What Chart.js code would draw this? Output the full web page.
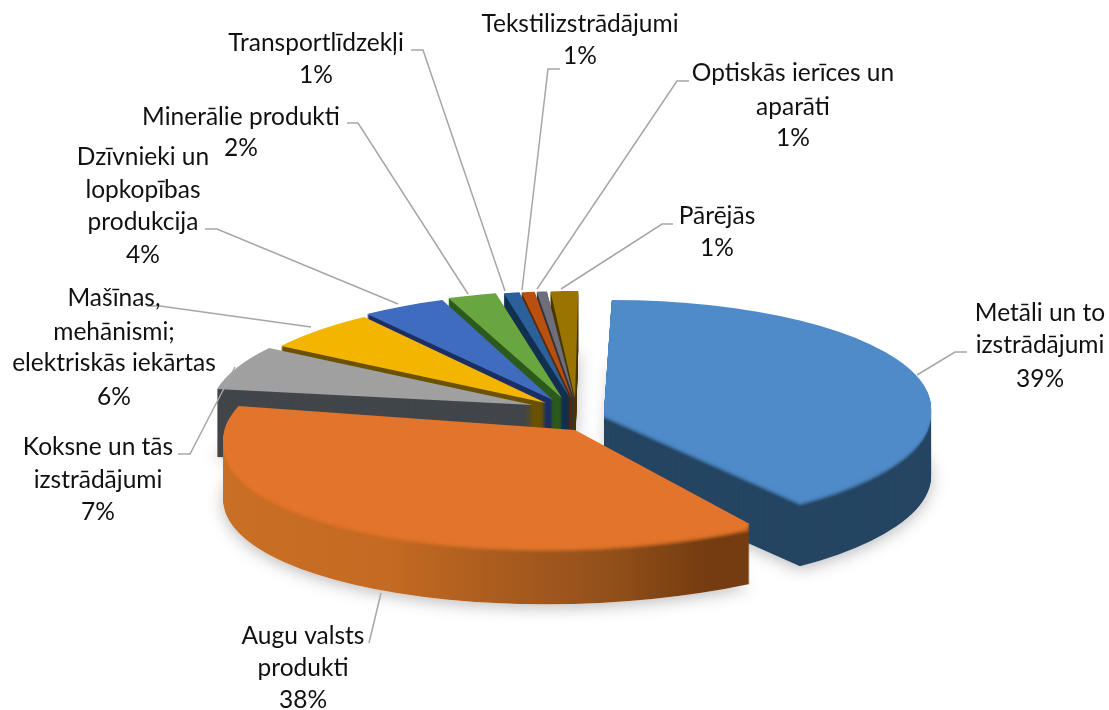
<!DOCTYPE html>
<html>
<head>
<meta charset="utf-8">
<title>Eksporta struktūra</title>
<script src="https://cdn.jsdelivr.net/npm/chart.js@4"></script>
<style>
    html, body { margin: 0; padding: 0; background: #fff; }
    canvas { display: block; }
</style>
</head>
<body>
<canvas id="pieChart" width="1109" height="710"></canvas>
<script>
// data
const categories = [
    ['Metāli un to', 'izstrādājumi'],
    ['Augu valsts', 'produkti'],
    ['Koksne un tās', 'izstrādājumi'],
    ['Mašīnas,', 'mehānismi;', 'elektriskās iekārtas'],
    ['Dzīvnieki un', 'lopkopības', 'produkcija'],
    ['Minerālie produkti'],
    ['Transportlīdzekļi'],
    ['Tekstilizstrādājumi'],
    ['Optiskās ierīces un', 'aparāti'],
    ['Pārējās']
];
const shares = [39.4, 38, 6.55, 5.91, 4.3, 2.49, 0.8, 0.67, 0.52, 1.36];
const percentLabels = ['39%', '38%', '7%', '6%', '4%', '2%', '1%', '1%', '1%', '1%'];

const faceColors = ['#4f8bc9', '#e2752b', '#a0a0a0', '#f3b500', '#3f6cbf', '#6aa640', '#2a619b', '#b9500f', '#6e6f7a', '#9a7400'];
const wallColors = ['#254563', '#b5601f', '#41464b', '#6b5200', '#1c2f66', '#2c5a1c', '#12304f', '#5a2a08', '#34343c', '#4a3800'];

// 3d look: where each slice sits on the page (x, y, rx, ry, skew, depth, tilt)
const sliceViews = [
    [604, 411, 327, 111, -0.07, 68, 0],
    [575, 430, 348, 114, -0.45, 60, 0.02],
    [533, 405, 322, 107, -0.15, 68, 0],
    [546, 403, 320, 107, -0.1, 60, 0],
    [553, 400, 317, 107, -0.03, 60, 0],
    [562, 398, 317, 107, 0, 60, 0],
    [570, 398, 317, 107, 0, 60, 0],
    [572, 398, 317, 107, 0, 60, 0],
    [574, 398, 317, 107, 0, 60, 0],
    [575, 398, 325, 107, -0.03, 60, 0]
];
const paintOrder = [9, 8, 7, 6, 5, 4, 3, 2, 0, 1];

// label centre x, y of each text line
const labelSpots = [
    [1040, [313, 345, 379]],
    [303, [636, 668, 700]],
    [98, [447, 480, 512]],
    [114, [298, 332, 363, 397]],
    [143, [157, 190, 222, 255]],
    [241, [117, 148]],
    [316, [43, 75]],
    [580, [24, 56]],
    [793, [73, 107, 138]],
    [717, [216, 248]]
];
const leaderLines = [
    [[967, 352], [955, 352], [917, 375]],
    [[369, 643], [381, 593]],
    [[178, 454], [190, 454], [235, 367]],
    [[147, 306], [160, 306], [311, 327]],
    [[205, 229], [217, 229], [398, 304]],
    [[347, 123], [358, 123], [468, 294]],
    [[411, 50], [423, 50], [505, 291]],
    [[560, 69], [548, 69], [522, 290]],
    [[689, 81], [677, 81], [537, 289]],
    [[673, 224], [662, 224], [561, 289]]
];

function drawSlice(ctx, arc, view, drop, color) {
    const [x, y, rx, ry, skew, , tilt] = view;
    const r = arc.outerRadius;
    const original = arc.options;
    ctx.save();
    ctx.translate(x, y + drop);
    ctx.transform(rx / r, tilt * rx / r, skew * ry / r, ry / r, 0, 0);
    ctx.translate(-arc.x, -arc.y);
    arc.options = Object.assign({}, original, { backgroundColor: color });
    arc.draw(ctx);
    arc.options = original;
    ctx.restore();
}

// horizontal gradient for the orange wall, in the arc's own space
function orangeWall(ctx, arc, view) {
    const k = arc.outerRadius / view[2];
    const px = (v) => arc.x + (v - view[0]) * k;
    const g = ctx.createLinearGradient(px(225), 0, px(752), 0);
    g.addColorStop(0, '#c96f26');
    g.addColorStop(0.4, '#c46a22');
    g.addColorStop(0.65, '#a65a1e');
    g.addColorStop(0.82, '#93501a');
    g.addColorStop(1, '#743c10');
    return g;
}

const pie3d = {
    id: 'pie3d',
    beforeDatasetsDraw(chart) {
        const ctx = chart.ctx;
        const arcs = chart.getDatasetMeta(0).data;

        // soft shadow under the pie
        ctx.save();
        ctx.shadowColor = 'rgba(60,60,70,0.35)';
        ctx.shadowBlur = 16;
        ctx.shadowOffsetY = 3;
        paintOrder.forEach((i) => {
            drawSlice(ctx, arcs[i], sliceViews[i], sliceViews[i][5], '#ffffff');
        });
        ctx.restore();

        paintOrder.forEach((i) => {
            const view = sliceViews[i];
            const depth = view[5];
            const wall = i === 1 ? orangeWall(ctx, arcs[i], view) : wallColors[i];
            for (let d = depth; d > 0; d--) {
                drawSlice(ctx, arcs[i], view, d, wall);
            }
            // rim highlight between wall and face
            const bevel = i < 2 ? 9 : 0;
            for (let d = bevel; d > 0; d--) {
                ctx.save();
                ctx.globalAlpha = 1 - d / (bevel + 1);
                drawSlice(ctx, arcs[i], view, d, faceColors[i]);
                ctx.restore();
            }
            drawSlice(ctx, arcs[i], view, 0, faceColors[i]);
        });
        return false;
    },
    afterDraw(chart) {
        const ctx = chart.ctx;
        ctx.save();
        ctx.strokeStyle = '#a6a6a6';
        ctx.lineWidth = 1.5;
        leaderLines.forEach((points) => {
            ctx.beginPath();
            points.forEach((p, n) => (n ? ctx.lineTo(p[0], p[1]) : ctx.moveTo(p[0], p[1])));
            ctx.stroke();
        });
        ctx.fillStyle = '#111111';
        ctx.font = '24.5px Lato';
        ctx.textAlign = 'center';
        ctx.textBaseline = 'middle';
        categories.forEach((lines, i) => {
            const [x, ys] = labelSpots[i];
            lines.concat(percentLabels[i]).forEach((text, n) => {
                ctx.fillText(text, x, ys[n]);
            });
        });
        ctx.restore();
    }
};

new Chart(document.getElementById('pieChart').getContext('2d'), {
    type: 'pie',
    data: {
        labels: categories,
        datasets: [{
            data: shares,
            backgroundColor: faceColors,
            borderWidth: 0
        }]
    },
    options: {
        responsive: false,
        animation: false,
        plugins: {
            legend: { display: false },
            tooltip: { enabled: false }
        }
    },
    plugins: [pie3d]
});
</script>
</body>
</html>
